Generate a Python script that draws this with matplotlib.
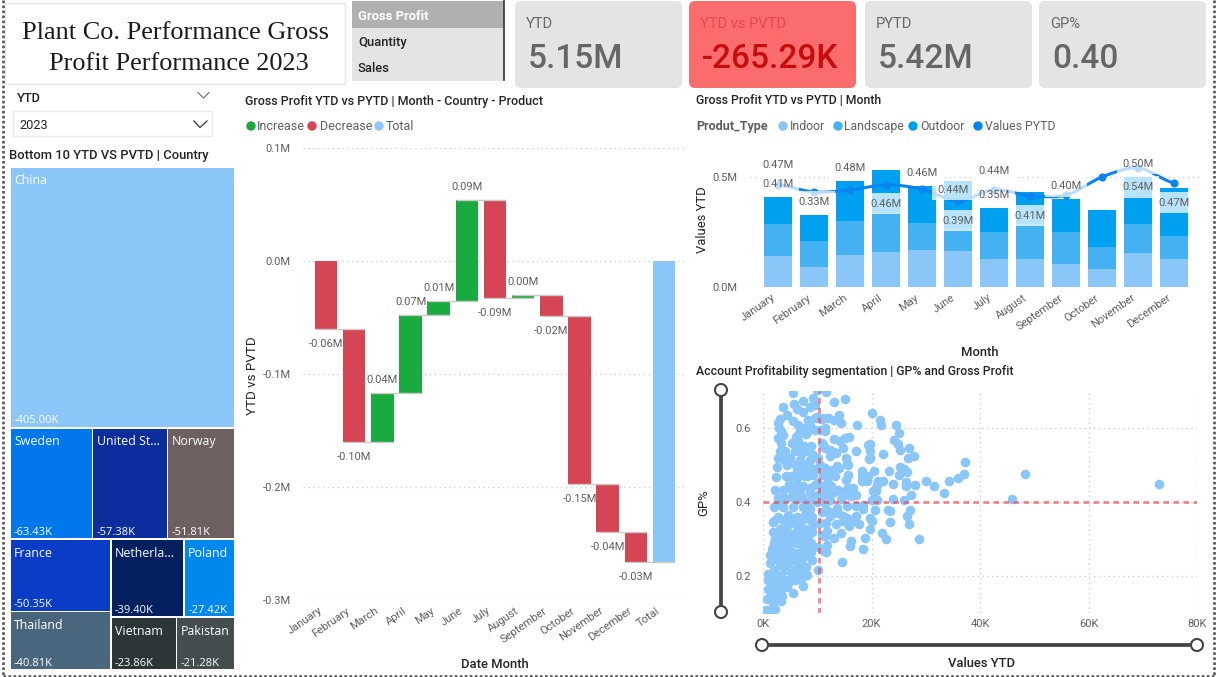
import matplotlib
matplotlib.use("Agg")
import matplotlib.pyplot as plt
from matplotlib.patches import Rectangle, FancyBboxPatch, PathPatch, Circle
from matplotlib.path import Path
from matplotlib.lines import Line2D
from matplotlib.transforms import ScaledTranslation

W, H = 1217, 677
plt.rcParams['font.family'] = ['Roboto', 'DejaVu Sans']

# ---------- data ----------
kpi_names = ["YTD", "YTD vs PVTD", "PYTD", "GP%"]
kpi_values = ["5.15M", "-265.29K", "5.42M", "0.40"]
measures = ["Gross Profit", "Quantity", "Sales"]

countries = ["China", "Sweden", "United St...", "Norway", "France", "Thailand",
             "Netherla...", "Poland", "Vietnam", "Pakistan"]
country_vals = [405.00, 63.43, 57.38, 51.81, 50.35, 40.81, 39.40, 27.42, 23.86, 21.28]
country_cols = ["#8AC6F8", "#0078EC", "#0C2E9C", "#6E6060", "#0A3CC6", "#4A667C",
                "#04205F", "#0088EC", "#2D3637", "#454E4F"]

wf_months = ["January", "February", "March", "April", "May", "June", "July", "August",
             "September", "October", "November", "December"]
wf_deltas = [-0.060, -0.100, 0.043, 0.069, 0.013, 0.089, -0.087, 0.003, -0.019, -0.148, -0.043, -0.026]

indoor = [.139, .092, .147, .161, .168, .165, .129, .126, .106, .082, .156, .129]
landscape = [.148, .118, .155, .174, .124, .097, .123, .159, .145, .102, .132, .102]
outdoor = [.121, .118, .182, .198, .165, .220, .105, .145, .148, .167, .214, .217]
pytd = [.465, .432, .441, .464, .445, .392, .442, .415, .418, .500, .541, .473]

# (month index, text, series the label hangs on, dx px, dy px)
combo_labels = [
    (0, "0.47M", "line", 0, 20), (0, "0.41M", "bar", 0, 13), (1, "0.33M", "bar", 0, 13),
    (2, "0.48M", "bar", 0, 13), (3, "0.46M", "line", 0, -19), (4, "0.46M", "bar", 0, 13),
    (5, "0.44M", "line", -5, 11), (5, "0.39M", "line", 0, -20), (6, "0.44M", "line", 0, 19),
    (6, "0.35M", "bar", 0, 13), (7, "0.41M", "line", 0, -20), (8, "0.40M", "bar", 0, 13),
    (10, "0.50M", "bar", 0, 13), (10, "0.54M", "line", 0, -19), (11, "0.47M", "line", 0, -20),
]

scatter_x = [
    11.6, 13.1, 15.1, 14.1, 20.0, 21.5, 21.7, 24.5, 25.1, 17.4, 14.4, 13.0, 12.0, 10.8, 11.4, 13.1, 15.9, 15.1, 14.2, 14.8,
    19.7, 19.3, 19.8, 17.1, 22.2, 24.1, 24.9, 25.3, 26.9, 27.9, 26.8, 19.8, 19.5, 15.3, 15.4, 15.7, 13.7, 14.0, 12.8, 12.3,
    13.1, 13.4, 12.3, 11.1, 11.2, 11.2, 12.0, 13.3, 15.7, 15.3, 18.3, 20.4, 23.2, 25.2, 26.0, 26.6, 25.0, 18.3, 18.8, 19.4,
    18.2, 19.1, 21.2, 22.2, 21.1, 23.9, 26.3, 26.4, 28.0, 30.1, 31.5, 34.2, 35.9, 33.4, 27.2, 24.0, 26.0, 20.9, 20.3, 20.0,
    21.1, 16.6, 15.7, 15.1, 13.9, 12.6, 12.0, 13.0, 11.1, 15.9, 17.1, 16.3, 14.3, 12.3, 11.4, 13.6, 15.4, 17.2, 18.4, 18.5,
    20.6, 23.1, 23.5, 27.1, 26.5, 26.9, 23.4, 19.7, 20.0, 19.7, 17.7, 17.1, 16.9, 15.9, 14.8, 13.4, 12.0, 12.8, 13.9, 14.7,
    15.4, 12.3, 11.7, 14.3, 13.1, 11.8, 11.4, 18.8, 22.0, 22.6, 28.8, 16.3, 16.0, 18.5, 14.6, 11.7, 11.8, 10.8,
    37.2, 37.0, 45.9, 48.3, 73.0,
    5.6, 9.9, 3.6, 5.7, 7.3, 9.3, 8.65, 9.6, 6.3, 7.4, 4.5, 3.1, 2.8, 6.5, 8.3, 8.65, 9.6, 11.1, 12.0, 6.8,
    3.4, 3.7, 2.8, 6.5, 8.3, 10.5, 11.4, 3.4, 6.5, 6.2, 5.9, 3.1, 4.05, 7.1, 8.3, 9.3, 10.8, 11.4, 2.8, 3.9,
    6.8, 8.65, 10.2, 2.5, 2.4, 4.2, 6.2, 7.1, 8.65, 10.5, 11.4, 6.2, 7.7, 9.3, 11.1, 6.2, 7.4, 8.65, 10.2, 11.7,
    2.2, 3.7, 5.3, 6.8, 8.65, 10.2, 11.7, 2.8, 5.3, 7.1, 9.3, 11.1,
    2.0, 3.7, 5.6, 7.4, 8.65, 10.8, 1.8, 2.8, 4.7, 6.2, 7.7, 9.0, 10.5, 1.9, 3.1, 4.7, 6.2, 7.7, 9.3, 2.2,
    3.7, 5.3, 6.8, 8.3, 10.8, 1.6, 3.1, 4.7, 6.2, 7.7, 10.2, 11.7, 1.3, 2.8, 4.7, 6.2, 8.0, 9.0, 1.3, 3.1,
    4.7, 6.5, 8.0, 10.1, 1.9, 3.4, 5.3, 6.8, 8.2, 1.6, 3.1, 4.7, 5.9, 7.3, 1.9, 3.4, 4.4, 5.5, 1.3, 2.5,
    0.7, 3.3, 1.9, 0.55, 1.6, 2.2,
    2.0, 3.6, 5.2, 7.0, 8.6, 2.9, 4.5, 6.0, 7.4, 9.0, 2.0, 3.0, 4.0, 5.2, 6.8, 8.8, 2.0, 4.0, 5.2, 7.0,
    8.9, 1.9, 3.8, 5.6, 7.1, 1.0, 2.1, 4.0, 5.7, 7.2, 0.9, 2.2, 4.0, 7.0, 1.0, 2.6, 1.9, 3.5,
    5.0, 6.0, 7.6, 5.1, 8.2, 9.5, 7.5, 8.9, 5.4, 4.8, 9.6, 4.0, 6.0, 8.3, 10.0, 3.0, 6.0, 7.5, 5.6, 9.5,
    8.0, 2.9, 10.0, 4.5,
]
scatter_y = [
    .697, .670, .678, .636, .640, .621, .609, .609, .587, .607, .613, .622, .627, .625, .591, .570, .575, .573, .564, .546,
    .557, .553, .537, .537, .530, .567, .558, .540, .546, .523, .518, .519, .517, .519, .505, .499, .496, .492, .487, .541,
    .535, .532, .525, .555, .492, .474, .465, .469, .472, .460, .483, .483, .483, .495, .489, .480, .472, .469, .465, .469,
    .458, .456, .458, .458, .447, .450, .453, .444, .447, .456, .442, .458, .465, .423, .420, .409, .406, .429, .429, .406,
    .406, .438, .438, .429, .433, .442, .429, .427, .438, .418, .418, .415, .409, .406, .397, .385, .388, .388, .393, .381,
    .379, .379, .376, .379, .362, .341, .346, .357, .349, .328, .340, .361, .348, .334, .348, .340, .375, .370, .370, .361,
    .357, .361, .343, .316, .303, .321, .307, .304, .316, .299, .299, .294, .280, .274, .239, .265, .285, .271,
    .508, .476, .408, .476, .449,
    .694, .703, .658, .666, .674, .681, .658, .663, .652, .643, .634, .625, .613, .609, .622, .609, .627, .627, .627, .595,
    .593, .582, .573, .582, .595, .595, .600, .559, .564, .546, .537, .537, .537, .532, .537, .528, .559, .546, .519, .514,
    .514, .514, .519, .494, .467, .469, .487, .483, .492, .501, .492, .465, .469, .472, .474, .447, .442, .438, .451, .447,
    .433, .433, .433, .424, .424, .420, .420, .411, .413, .411, .415, .406,
    .387, .387, .387, .387, .382, .373, .346, .360, .364, .360, .364, .360, .342, .319, .328, .337, .337, .328, .337, .301,
    .306, .306, .310, .301, .310, .274, .270, .283, .288, .279, .279, .265, .256, .247, .256, .261, .256, .243, .234, .229,
    .234, .234, .225, .216, .207, .202, .202, .202, .202, .180, .184, .180, .189, .173, .162, .166, .169, .155, .144, .148,
    .137, .132, .128, .108, .108, .110,
    .350, .352, .350, .348, .351, .315, .318, .320, .316, .318, .290, .292, .289, .291, .292, .290, .265, .266, .268, .264,
    .266, .245, .246, .244, .245, .205, .215, .215, .217, .215, .190, .191, .188, .192, .165, .166, .145, .146,
    .520, .500, .500, .470, .470, .490, .550, .550, .560, .450, .445, .410, .405, .400, .400, .400, .575, .600, .620, .595,
    .585, .600, .630, .500,
]
avg_x, avg_y = 10.3, 0.40

# ---------- helpers ----------
GREY = "#605E5C"
DARK = "#252423"
fig = plt.figure(figsize=(W / 100, H / 100), dpi=100, facecolor="white")


def px(v):
    return v * 0.72


bg = fig.add_axes([0, 0, 1, 1], zorder=0)
bg.set_xlim(0, W)
bg.set_ylim(H, 0)
bg.axis("off")


def txt(x, y, s, size=8.5, color=DARK, ha="left", va="center", **kw):
    return bg.text(x, y + 1.5, s, fontsize=size, color=color, ha=ha, va=va, **kw)


def chart_axes(l, t, r, b):
    a = fig.add_axes([l / W, 1 - b / H, (r - l) / W, (b - t) / H], zorder=2)
    a.patch.set_alpha(0)
    for s in a.spines.values():
        s.set_visible(False)
    a.tick_params(length=0, labelsize=8, labelcolor=GREY)
    return a


def dotted_grid(a, axis="y"):
    a.grid(True, axis=axis, color="#CFCFCF", linestyle=(0, (1, 2.5)), linewidth=1)
    a.set_axisbelow(True)


def slant_labels(a, shift):
    off = ScaledTranslation(px(shift) / 72, 0, fig.dpi_scale_trans)
    for t in a.get_xticklabels():
        t.set_rotation(35)
        t.set_ha("right")
        t.set_rotation_mode("anchor")
        t.set_transform(t.get_transform() + off)


# page border
bg.plot([3, 3], [0, 675], color="#555555", lw=1.9, ls=(0, (1, 0.9)), clip_on=False)
bg.plot([3, 1214], [675.5, 675.5], color="#555555", lw=1.9, ls=(0, (1, 0.9)))
bg.plot([1214, 1214], [0, 675], color="#555555", lw=1.9, ls=(0, (1, 0.9)))

# title
bg.add_patch(Rectangle((5, 3), 340, 81, fc="white", ec="#E6E6E6", lw=1))
txt(176, 31.5, "Plant Co. Performance Gross", 18.9, "#1A1A1A", ha="center", family="Liberation Serif")
txt(179, 62.5, "Profit Performance 2023", 18.9, "#1A1A1A", ha="center", family="Liberation Serif")

# measure slicer
for i, m in enumerate(measures):
    y0 = 1 + i * 26.5
    bg.add_patch(Rectangle((352, y0), 152, 26.5, fc="#B0B0B0" if i == 0 else "#E4E4E4", ec="none"))
    txt(358, y0 + 13.5, m, 9.4, "white" if i == 0 else DARK, weight="bold" if i == 0 else "medium")
bg.plot([504, 504], [1, 80], color="#333333", lw=1.2)

# KPI cards
card_x = [515, 689, 865, 1039]
for x, n, v, i in zip(card_x, kpi_names, kpi_values, range(4)):
    red = i == 1
    bg.add_patch(FancyBboxPatch((x + 5, 6), 157, 77, boxstyle="round,pad=5,rounding_size=6",
                                fc="#FB6C6C" if red else "#E4E4E4", ec="none"))
    txt(x + 11, 23, n, 10.5, "#E8484F" if red else "#666666")
    txt(x + 13, 58, v, 24, "#C40D0D" if red else "#666666", weight="medium")

# dropdowns
txt(17, 96.5, "YTD", 9.2, weight="medium")
bg.plot([198, 203.5, 209], [92.5, 98, 92.5], color="#555555", lw=0.7)
bg.add_patch(Rectangle((13, 111), 199, 25, fc="white", ec="#EAEAEA", lw=1))
txt(19, 124, "2023", 9.2)
bg.plot([194, 200, 207], [121, 127.5, 121], color="#333333", lw=0.9)

# ---------- treemap (rectangle sizes follow the values) ----------
txt(9, 153.5, "Bottom 10 YTD VS PVTD | Country", 9.4, weight="medium")
TL, TT, TW, TH = 10, 167, 225, 503
total = sum(country_vals)


def cell(i, x, y, w, h):
    bg.add_patch(Rectangle((x + .75, y + .75), w - 1.5, h - 1.5, fc=country_cols[i], ec="none"))
    bg.text(x + 4, y + 14, countries[i], fontsize=8.9, color="white", va="center", family="Open Sans")
    bg.text(x + 4, y + h - 7, f"-{country_vals[i]:.2f}K", fontsize=8, color="white", va="center",
            family="Open Sans")


h0 = TH * country_vals[0] / total
cell(0, TL, TT, TW, h0)
y = TT + h0
row = sum(country_vals[1:4])
h1 = TH * row / total
x = TL
for i in (1, 2, 3):
    w = TW * country_vals[i] / row
    cell(i, x, y, w, h1)
    x += w
y += h1
rest = sum(country_vals[4:])
h_rest = TT + TH - y
col = country_vals[4] + country_vals[5]
w_col = TW * col / rest
cell(4, TL, y, w_col, h_rest * country_vals[4] / col)
cell(5, TL, y + h_rest * country_vals[4] / col, w_col, h_rest * country_vals[5] / col)
right = rest - col
top = country_vals[6] + country_vals[7]
bot = country_vals[8] + country_vals[9]
w_r = TW - w_col
h_top = h_rest * top / right
cell(6, TL + w_col, y, w_r * country_vals[6] / top, h_top)
cell(7, TL + w_col + w_r * country_vals[6] / top, y, w_r * country_vals[7] / top, h_top)
cell(8, TL + w_col, y + h_top, w_r * country_vals[8] / bot, h_rest - h_top)
cell(9, TL + w_col + w_r * country_vals[8] / bot, y + h_top, w_r * country_vals[9] / bot, h_rest - h_top)

# ---------- waterfall ----------
txt(245, 99.5, "Gross Profit YTD vs PYTD | Month - Country - Product", 9.0, weight="medium")
for cx, tx, col_, lab in [(251, 257, "#1AAB40", "Increase"), (312, 320, "#D64554", "Decrease"),
                          (379, 386, "#8AC6F8", "Total")]:
    bg.add_patch(Circle((cx, 126), 4.7, fc=col_, ec="none"))
    txt(tx, 125, lab, 9, GREY)
txt(252, 374, "YTD vs PVTD", 9.6, rotation=90, ha="center")
txt(495, 663, "Date Month", 9.4, ha="center", weight="medium")

wf = chart_axes(303, 148, 687, 600)
wf.set_xlim(-0.816, 12.815)
wf.set_ylim(-0.3, 0.1)
dotted_grid(wf)
wf.set_yticks([-0.3, -0.2, -0.1, 0.0, 0.1], ["-0.3M", "-0.2M", "-0.1M", "0.0M", "0.1M"])
wf.tick_params(axis="y", pad=9)
cum = 0.0
BW = 0.8
ends = []
for i, d in enumerate(wf_deltas):
    wf.bar(i, d, bottom=cum, width=BW, color="#1AAB40" if d > 0 else "#D64554", zorder=3)
    new = cum + d
    ends.append(new)
    lab = f"{d:.2f}M"
    off = 13 if d > 0 else -15
    wf.annotate(lab, (i, new), xytext=(0, px(off)), textcoords="offset points", ha="center", va="center",
                fontsize=8, color=GREY, zorder=5)
    cum = new
wf.bar(12, cum, width=BW, color="#8AC6F8", zorder=3)
for i, e in enumerate(ends):
    wf.plot([i - BW / 2, i + 1 + BW / 2], [e, e], color="#C9C9C9", lw=1, zorder=4, solid_capstyle="butt")
wf.set_xticks(range(13), wf_months + ["Total"])
wf.tick_params(axis="x", pad=4)
slant_labels(wf, -8)

# ---------- stacked bars + line ----------
txt(696, 99.5, "Gross Profit YTD vs PYTD | Month", 8.8, weight="medium")
txt(696, 125, "Produt_Type", 9, GREY, weight="bold")
for cx, tx, col_, lab in [(783, 790, "#8AC6F8", "Indoor"), (838, 844, "#44B1F3", "Landscape"),
                          (913, 920, "#00A0F0", "Outdoor"), (978, 985, "#0A84F0", "Values PYTD")]:
    bg.add_patch(Circle((cx, 126), 4.7, fc=col_, ec="none"))
    txt(tx, 125, lab, 8.8, GREY)
txt(703, 218, "Values YTD", 9.4, rotation=90, ha="center")
txt(980, 351, "Month", 9.4, ha="center", weight="medium")

cb = chart_axes(750, 155, 1200, 287)
cb.set_xlim(-0.778, 11.72)
cb.set_ylim(0, 0.6)
dotted_grid(cb)
cb.set_yticks([0, 0.5], ["0.0M", "0.5M"])
cb.tick_params(axis="y", pad=9)
xs = list(range(12))
cb.bar(xs, indoor, width=0.79, color="#8AC6F8", zorder=3)
cb.bar(xs, landscape, bottom=indoor, width=0.79, color="#44B1F3", zorder=3)
b2 = [a + b for a, b in zip(indoor, landscape)]
cb.bar(xs, outdoor, bottom=b2, width=0.79, color="#00A0F0", zorder=3)
tops = [a + b for a, b in zip(b2, outdoor)]

verts = [(0, pytd[0])]
codes = [Path.MOVETO]
n = len(pytd)
for i in range(n - 1):
    p0 = pytd[max(i - 1, 0)]
    p1 = pytd[i]
    p2 = pytd[i + 1]
    p3 = pytd[min(i + 2, n - 1)]
    verts += [(i + 1 / 3, p1 + (p2 - p0) / 6), (i + 2 / 3, p2 - (p3 - p1) / 6), (i + 1, p2)]
    codes += [Path.CURVE4] * 3
cb.add_patch(PathPatch(Path(verts, codes), fc="none", ec="#0A84F0", lw=2.2, zorder=4))
cb.scatter(xs, pytd, s=34, color="#0A84F0", zorder=5, linewidths=0)
for i, s, kind, dx, dy in combo_labels:
    v = pytd[i] if kind == "line" else tops[i]
    cb.annotate(s, (i, v), xytext=(px(dx), px(dy)), textcoords="offset points", ha="center", va="center",
                fontsize=8, color=GREY, zorder=6, annotation_clip=False,
                bbox=dict(boxstyle="square,pad=0.5", fc="white", ec="none", alpha=0.72))
cb.set_xticks(xs, wf_months)
cb.tick_params(axis="x", pad=4)
slant_labels(cb, -7)

# ---------- scatter ----------
txt(696, 369.5, "Account Profitability segmentation | GP% and Gross Profit", 8.85, weight="medium")
txt(704, 501, "GP%", 9.4, rotation=90, ha="center")
txt(981, 662, "Values YTD", 9.4, ha="center", weight="medium")
sc = chart_axes(763, 391, 1197, 613)
sc.set_xlim(0, 80)
sc.set_ylim(0.1, 0.7)
dotted_grid(sc, "both")
sc.set_xticks([0, 20, 40, 60, 80], ["0K", "20K", "40K", "60K", "80K"])
sc.set_yticks([0.2, 0.4, 0.6], ["0.2", "0.4", "0.6"])
sc.tick_params(axis="y", pad=9)
sc.tick_params(axis="x", pad=4)
sc.scatter(scatter_x, scatter_y, s=48, color="#8AC6F8", linewidths=0, zorder=3)
sc.axvline(avg_x, color="#F2404F", alpha=0.65, lw=2, ls=(0, (2, 1.6)), zorder=4)
sc.axhline(avg_y, color="#F2404F", alpha=0.65, lw=2, ls=(0, (2, 1.6)), zorder=4)

# range sliders
for a, b in [((721, 390), (721, 612)), ((762, 645), (1197, 645))]:
    bg.add_line(Line2D([a[0], b[0]], [a[1], b[1]], color="#444444", lw=2.7, zorder=2))
    for p in (a, b):
        bg.add_patch(Circle(p, 6, fc="white", ec="#444444", lw=1.5, zorder=3))

fig.savefig("out.png", dpi=100)
